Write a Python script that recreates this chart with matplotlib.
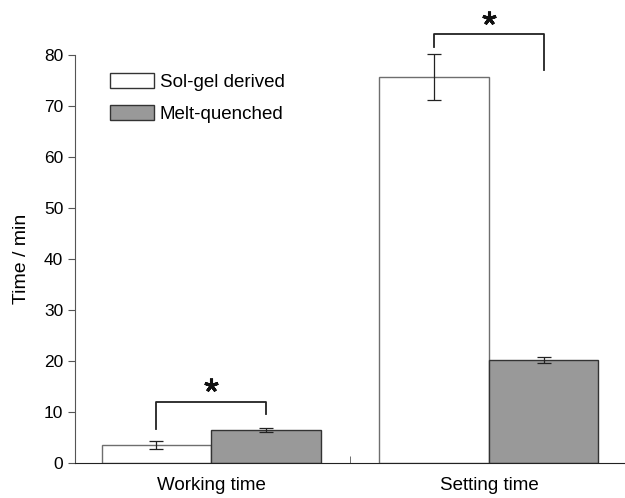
import matplotlib
matplotlib.use("Agg")
import matplotlib.pyplot as plt
import numpy as np
from matplotlib.patches import Patch

plt.rcParams['font.family'] = ['Liberation Sans', 'DejaVu Sans']

categories = ["Working time", "Setting time"]
sol_gel = [3.6, 75.7]
sol_gel_err = [0.8, 4.5]
melt = [6.5, 20.2]
melt_err = [0.4, 0.6]
series_labels = ["Sol-gel derived", "Melt-quenched"]
yticks = [0, 10, 20, 30, 40, 50, 60, 70, 80]
# significance brackets: (top, left leg bottom, right leg bottom, star height)
brackets = [(12.0, 6.7, 9.6, 15.3), (84.1, 81.6, 77.1, 87.3)]

fig = plt.figure(figsize=(6.25, 4.98), dpi=100)
ax = fig.add_axes([0.12, 0.0703, 0.88, 0.8193])

x = np.arange(len(categories))
w = 0.394
ekw = dict(ecolor='#222222', elinewidth=0.9, capsize=5, capthick=0.9)
b1 = ax.bar(x - w/2, sol_gel, w, color='white', edgecolor='#6e6e6e', linewidth=1.0,
            yerr=sol_gel_err, error_kw=ekw)
b2 = ax.bar(x + w/2, melt, w, color='#999999', edgecolor='#333333', linewidth=1.0,
            yerr=melt_err, error_kw=ekw)
for c in (b1, b2):
    for art in c.errorbar.lines:
        if isinstance(art, tuple):
            for a in art:
                a.set_clip_on(False)
        elif art is not None:
            art.set_clip_on(False)

for xi, (top, lb, rb, sy) in zip(x, brackets):
    ax.plot([xi - w/2, xi - w/2, xi + w/2, xi + w/2], [lb, top, top, rb],
            color='#222222', lw=1.3, clip_on=False)
    ax.plot([xi], [sy], marker=(5, 2, 0), markersize=10, mew=2.2,
            color='#111111', clip_on=False)

ax.set_xlim(-0.49, 1.49)
ax.set_ylim(0, 80)
ax.set_yticks(yticks)
ax.set_xticks(x)
ax.set_xticklabels(categories, fontsize=13.5)
ax.set_xticks([0.5], minor=True)
ax.tick_params(axis='x', which='major', length=0, pad=10)
ax.tick_params(axis='x', which='minor', direction='in', length=5, color='#555555')
ax.tick_params(axis='y', labelsize=12.5, length=5, color='#555555')
ax.set_ylabel("Time / min", fontsize=14, labelpad=10)
for s in ['top', 'right']:
    ax.spines[s].set_visible(False)
ax.spines['left'].set_color('#555555')
ax.spines['bottom'].set_color('#222222')

handles = [Patch(facecolor='white', edgecolor='#333333', linewidth=1.0),
           Patch(facecolor='#999999', edgecolor='#333333', linewidth=1.0)]
ax.legend(handles, series_labels, loc='upper left', bbox_to_anchor=(0.05, 0.975),
          borderaxespad=0, frameon=False, fontsize=13.5, handlelength=2.35,
          handleheight=0.88, handletextpad=0.3, labelspacing=0.74)

fig.savefig("out.png", dpi=100)
